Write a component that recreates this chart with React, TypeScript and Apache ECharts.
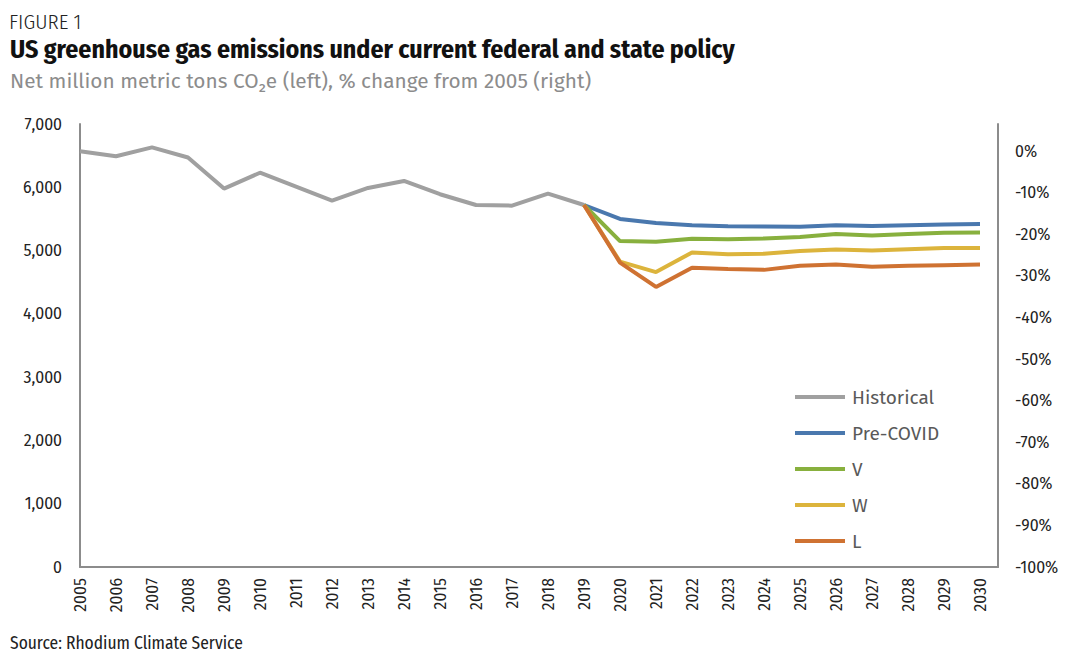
import React, { useEffect, useRef } from "react";
import * as echarts from "echarts";

const years = [2005, 2006, 2007, 2008, 2009, 2010, 2011, 2012, 2013, 2014, 2015, 2016, 2017, 2018, 2019, 2020, 2021, 2022, 2023, 2024, 2025, 2026, 2027, 2028, 2029, 2030];
const historical = [6570, 6490, 6630, 6470, 5980, 6230, 6010, 5790, 5990, 6100, 5890, 5720, 5710, 5900, 5720];
const projYears = [2019, 2020, 2021, 2022, 2023, 2024, 2025, 2026, 2027, 2028, 2029, 2030];
const preCovid = [5720, 5500, 5435, 5400, 5385, 5380, 5375, 5400, 5390, 5400, 5410, 5420];
const vShape = [5720, 5150, 5140, 5185, 5180, 5190, 5215, 5260, 5240, 5260, 5280, 5285];
const wShape = [5720, 4825, 4660, 4970, 4940, 4950, 4995, 5015, 5000, 5020, 5040, 5040];
const lShape = [5720, 4810, 4425, 4730, 4710, 4695, 4760, 4780, 4745, 4760, 4770, 4780];
const leftTicks = { min: 0, max: 7000, interval: 1000 };
const rightTicks = { min: -100, interval: 10 };

const seriesDefs = [
  { name: "Historical", years: years.slice(0, historical.length), values: historical, color: "#a0a0a0" },
  { name: "Pre-COVID", years: projYears, values: preCovid, color: "#4a78ae" },
  { name: "V", years: projYears, values: vShape, color: "#88b03e" },
  { name: "W", years: projYears, values: wShape, color: "#dcb43c" },
  { name: "L", years: projYears, values: lShape, color: "#cf7232" },
];

const base = historical[0];
const rightMax = (leftTicks.max / base - 1) * 100;

const sans = "'Fira Sans', 'Open Sans', 'Noto Sans', sans-serif";
const narrow = "'Fira Sans Condensed', 'Liberation Sans Narrow', 'DejaVu Sans Condensed', 'Open Sans', sans-serif";

export default function App() {
  const ref = useRef<HTMLDivElement>(null);
  useEffect(() => {
    document.body.style.margin = "0";
    const chart = echarts.init(ref.current!, null, { renderer: "svg" });
    chart.setOption({
      animation: false,
      backgroundColor: "#ffffff",
      grid: { left: 80, right: 89, top: 124, bottom: 101, containLabel: false },
      xAxis: {
        type: "value",
        min: years[0],
        max: years[years.length - 1] + 0.5,
        interval: 1,
        axisLine: { show: true, lineStyle: { color: "#8c8c8c", width: 2 } },
        axisTick: { show: false },
        splitLine: { show: false },
        axisLabel: {
          rotate: 90,
          fontSize: 16,
          fontFamily: sans,
          color: "#222",
          margin: 11,
          showMaxLabel: false,
          formatter: (v: number) => (Number.isInteger(v) ? String(v) : ""),
        },
      },
      yAxis: [
        {
          type: "value",
          position: "left",
          min: leftTicks.min,
          max: leftTicks.max,
          interval: leftTicks.interval,
          axisLine: { show: true, lineStyle: { color: "#8c8c8c", width: 2 } },
          axisTick: { show: false },
          splitLine: { show: false },
          axisLabel: { fontSize: 16, fontFamily: sans, color: "#222", margin: 18 },
        },
        {
          type: "value",
          position: "right",
          min: rightTicks.min,
          max: rightMax,
          interval: rightTicks.interval,
          axisLine: { show: true, lineStyle: { color: "#8c8c8c", width: 2 } },
          axisTick: { show: false },
          splitLine: { show: false },
          axisLabel: {
            fontSize: 16,
            fontFamily: sans,
            color: "#222",
            margin: 17,
            showMaxLabel: false,
            formatter: (v: number) => (Math.abs(v - Math.round(v)) < 1e-6 && Math.round(v) % 10 === 0 ? Math.round(v) + "%" : ""),
          },
        },
      ],
      legend: {
        orient: "vertical",
        left: 795,
        top: 386,
        padding: 0,
        icon: "rect",
        itemWidth: 50,
        itemHeight: 4,
        itemGap: 14,
        textStyle: { fontSize: 19, fontFamily: sans, color: "#595959", lineHeight: 22, padding: [0, 0, 0, 2] },
        data: seriesDefs.map((s) => s.name),
      },
      series: seriesDefs.map((s) => ({
        name: s.name,
        type: "line",
        xAxisIndex: 0,
        yAxisIndex: 0,
        showSymbol: false,
        symbol: "none",
        z: s.name === "Historical" ? 1 : 2,
        lineStyle: { color: s.color, width: 4 },
        itemStyle: { color: s.color },
        data: s.years.map((y, i) => [y, s.values[i]]),
      })),
      graphic: [
        { type: "text", left: 9, top: 11, style: { text: "FIGURE 1", fontSize: 21, fontWeight: 300, fontFamily: narrow, fill: "#222" } },
        { type: "text", left: 10, top: 36, style: { text: "US greenhouse gas emissions under current federal and state policy", fontSize: 25.8, fontWeight: "bold", fontFamily: narrow, fill: "#111" } },
        { type: "text", left: 10, top: 71, style: { text: "Net million metric tons CO\u2082e (left), % change from 2005 (right)", fontSize: 20.8, fontFamily: sans, fill: "#8c8c8c" } },
        { type: "text", left: 10, top: 635, style: { text: "Source: Rhodium Climate Service", fontSize: 17.4, fontFamily: narrow, fill: "#222" } },
      ],
    });
    return () => chart.dispose();
  }, []);
  return <div ref={ref} style={{ width: 1087, height: 668 }} />;
}
